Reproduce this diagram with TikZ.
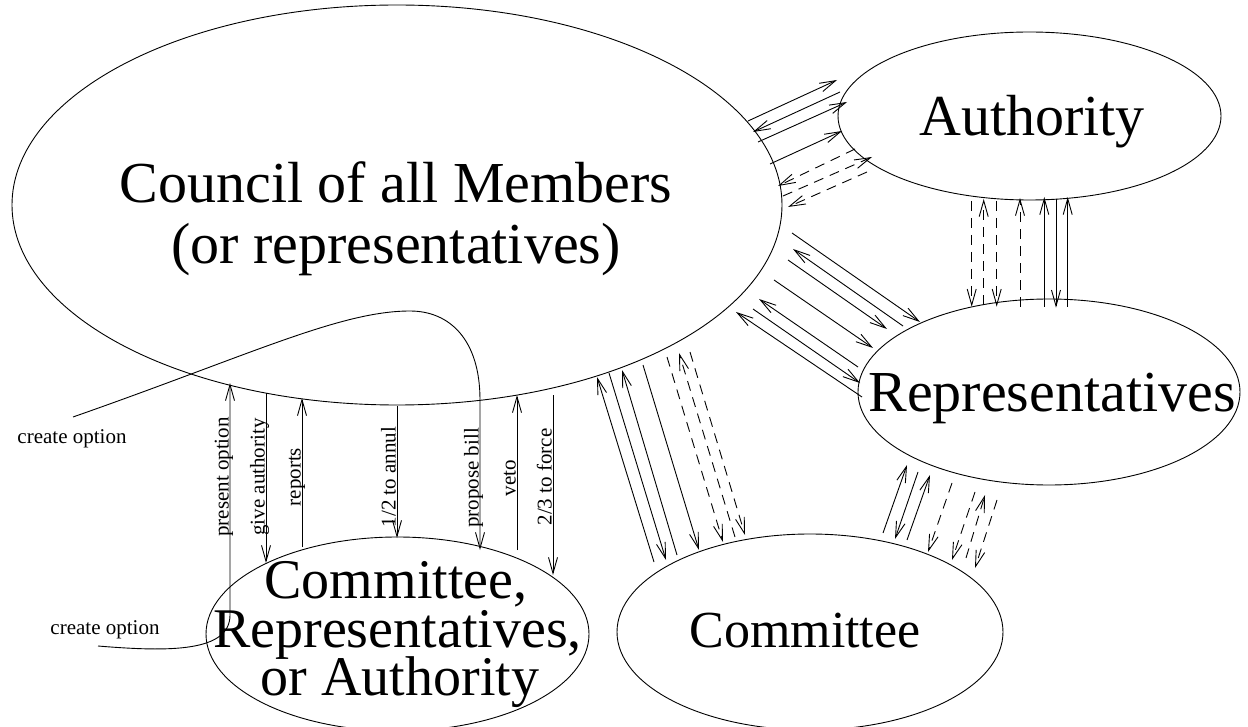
\documentclass[tikz,border=0pt]{standalone}
\usepackage{fontspec}
\setmainfont{Liberation Serif}
\usetikzlibrary{arrows.meta,shapes.geometric}
\begin{document}
\begin{tikzpicture}[x=1pt,y=-1pt,
  every node/.style={inner sep=0pt, outer sep=0pt},
  bubble/.style={draw, ellipse, line width=0.9pt, inner sep=0pt},
  bigtxt/.style={font=\fontsize{58}{60}\selectfont, anchor=base},
  midtxt/.style={font=\fontsize{56}{60}\selectfont, anchor=base},
  smalltxt/.style={font=\fontsize{21}{24}\selectfont, anchor=base},
  vlabel/.style={font=\fontsize{21}{24}\selectfont, rotate=90, anchor=base},
  ln/.style={line width=0.9pt},
  arr/.style={ln, -{Straight Barb[length=16pt,width=9pt]}},
  darr/.style={arr, dash pattern=on 10pt off 7pt},
]
\useasboundingbox (0,0) rectangle (1248,727);

% ellipses
\node[bubble, minimum width=770pt, minimum height=400pt] (council) at (397,205) {};
\node[bubble, minimum width=383pt, minimum height=168pt] (authority) at (1029.5,116) {};
\node[bubble, minimum width=382pt, minimum height=186pt] (reps) at (1049,392) {};
\node[bubble, minimum width=386pt, minimum height=196pt] (committee) at (810,632) {};
\node[bubble, minimum width=383pt, minimum height=194pt] (cra) at (397.5,634) {};

% big texts
\node[bigtxt] (tc1) at (396,203) {Council of all Members};
\node[bigtxt] (tc2) at (396,264) {(or representatives)};
\node[bigtxt] (ta) at (1032,136) {Authority};
\node[bigtxt] (tr) at (1052,411) {Representatives};
\node[bigtxt, font=\fontsize{52}{56}\selectfont] (tm) at (805,647) {Committee};
\node[midtxt] (tx1) at (396,598) {Committee,};
\node[midtxt] (tx2) at (397.5,647) {Representatives,};
\node[midtxt] (tx3) at (400,695) {or Authority};

% create option labels
\node[smalltxt] (co1) at (72,443) {create option};
\node[smalltxt] (co2) at (105,634) {create option};

% council <-> authority
\draw[arr] (748,121) -- (837,80);
\draw[arr] (840,92) -- (753,132);
\draw[arr] (758,142) -- (847,102);
\draw[arr] (770,164) -- (842,131);
\draw[darr] (855,149) -- (778,186);
\draw[darr] (783,196) -- (872,157);
\draw[darr] (867,172) -- (788,207);

% authority <-> representatives
\draw[darr] (971.7,201) -- (971.7,306.7);
\draw[darr] (983.7,305) -- (983.7,199);
\draw[darr] (996.7,201) -- (996.7,306.7);
\draw[darr] (1020,306.7) -- (1020,198);
\draw[arr] (1044.3,306.7) -- (1044.3,197);
\draw[arr] (1056,199) -- (1056,307.7);
\draw[arr] (1067.7,306.7) -- (1067.7,197);

% council <-> representatives
\draw[arr] (792,233) -- (920,322);
\draw[arr] (903,326) -- (793,249);
\draw[arr] (788,260) -- (887,329);
\draw[arr] (774,280) -- (873,348);
\draw[arr] (858,367) -- (759,299);
\draw[arr] (753,309) -- (860,383);
\draw[arr] (862,397) -- (736,312);

% council <-> committee
\draw[arr] (654,562) -- (597,377);
\draw[arr] (609,373) -- (666,560);
\draw[arr] (677,555) -- (622,370);
\draw[arr] (643,365) -- (699,550);
\draw[darr] (667,357) -- (723,542);
\draw[darr] (735,537) -- (679,353);
\draw[darr] (690,352) -- (745,535);

% representatives <-> committee
\draw[arr] (883,533) -- (907,465);
\draw[arr] (918,472) -- (895,539);
\draw[arr] (907,540) -- (930,475);
\draw[darr] (952,483) -- (928,552);
\draw[darr] (975,492) -- (952,560);
\draw[darr] (966,558) -- (985,495);
\draw[darr] (997,500) -- (975,568);

% council <-> committee/representatives/authority
\coordinate (cA) at (73,417);
\coordinate (cB) at (98,646);
\draw[arr] (cB) .. controls (170,652) and (230,652) .. (230,615) -- (230,383);
\draw[arr] (266,393) -- (266,563);
\draw[arr] (302,547) -- (302,398);
\draw[arr] (397,406) -- (397,538);
\draw[arr] (cA) .. controls (250,355) and (340,311) .. (410,311)
      .. controls (450,311) and (480,340) .. (480,400) -- (480,550);
\draw[arr] (517,550) -- (517,395);
\draw[arr] (553,395) -- (553,575);

% vertical labels
\node[vlabel] (lp) at (228.5,477) {present option};
\node[vlabel] (lg) at (264.5,477) {give authority};
\node[vlabel] (lr) at (300.5,477) {reports};
\node[vlabel] (lh) at (395.5,477) {1/2 to annul};
\node[vlabel] (lb) at (478.5,478) {propose bill};
\node[vlabel] (lv) at (515.5,478) {veto};
\node[vlabel] (lf) at (551.5,477) {2/3 to force};
\end{tikzpicture}
\end{document}
